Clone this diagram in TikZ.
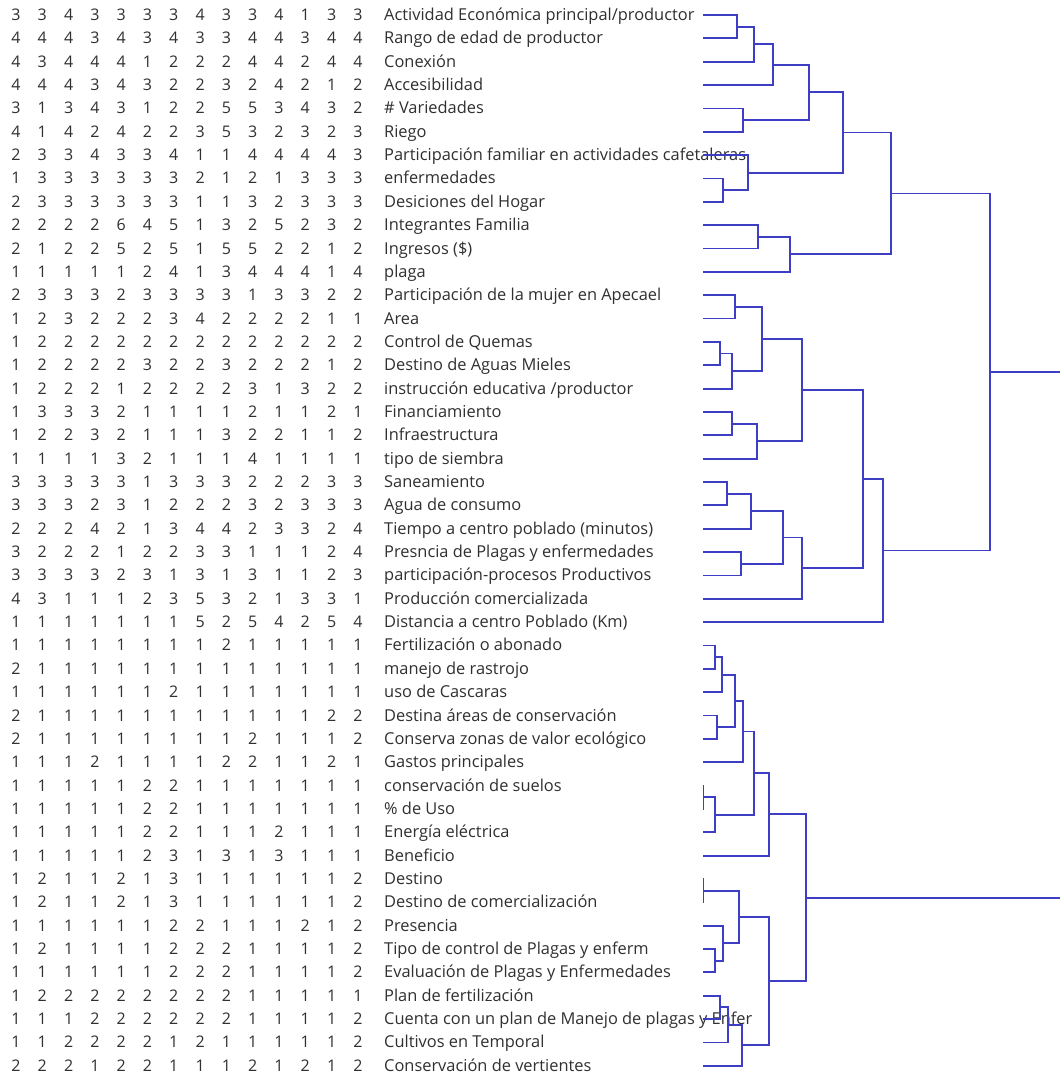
\documentclass[tikz,border=0pt]{standalone}
\usepackage{fontspec}
\setmainfont{Open Sans}
\usetikzlibrary{calc}

\definecolor{treeblue}{RGB}{62,62,196}
\definecolor{ink}{RGB}{48,48,48}

% vertical position of a row
\newcommand{\rowy}[1]{15+(#1-1)*23.35}

% one row of the table: scores, variable name, leaf of the tree
\newcommand{\datarow}[3]{%
  \foreach \v [count=\j] in {#2}
    \node[score] at ({16+(\j-1)*26.3},{\rowy{#1}+5.5}) {\v};
  \node[varname] (v#1) at (384,{\rowy{#1}+5.5}) {#3};
  \coordinate (r#1) at (703,{\rowy{#1}});
}

% join two branches at height #4
\newcommand{\merge}[4]{%
  \path let \p1=(#2), \p2=(#3) in coordinate (#1) at (#4pt,{0.5*\y1+0.5*\y2});
  \draw[tree] (#2) -| (#1) |- (#3);
}

\begin{document}
\begin{tikzpicture}[
        x=1pt, y=-1pt,
        score/.style={anchor=base, inner sep=0pt, text=ink, font=\fontsize{16}{18}\selectfont},
        varname/.style={anchor=base west, inner sep=0pt, text=ink, font=\fontsize{16.4}{18}\selectfont},
        tree/.style={draw=treeblue, line width=1.8pt}
    ]
    \useasboundingbox[fill=white] (0,0) rectangle (1060,1081);
    \coordinate (rim) at (1060,0);

    % table
    \datarow{1}{3,3,4,3,3,3,3,4,3,3,4,1,3,3}{Actividad Económica principal/productor}
    \datarow{2}{4,4,4,3,4,3,4,3,3,4,4,3,4,4}{Rango de edad de productor}
    \datarow{3}{4,3,4,4,4,1,2,2,2,4,4,2,4,4}{Conexión}
    \datarow{4}{4,4,4,3,4,3,2,2,3,2,4,2,1,2}{Accesibilidad}
    \datarow{5}{3,1,3,4,3,1,2,2,5,5,3,4,3,2}{\# Variedades}
    \datarow{6}{4,1,4,2,4,2,2,3,5,3,2,3,2,3}{Riego}
    \datarow{7}{2,3,3,4,3,3,4,1,1,4,4,4,4,3}{Participación familiar en actividades cafetaleras}
    \datarow{8}{1,3,3,3,3,3,3,2,1,2,1,3,3,3}{enfermedades}
    \datarow{9}{2,3,3,3,3,3,3,1,1,3,2,3,3,3}{Desiciones del Hogar}
    \datarow{10}{2,2,2,2,6,4,5,1,3,2,5,2,3,2}{Integrantes Familia}
    \datarow{11}{2,1,2,2,5,2,5,1,5,5,2,2,1,2}{Ingresos (\$)}
    \datarow{12}{1,1,1,1,1,2,4,1,3,4,4,4,1,4}{plaga}
    \datarow{13}{2,3,3,3,2,3,3,3,3,1,3,3,2,2}{Participación de la mujer en Apecael}
    \datarow{14}{1,2,3,2,2,2,3,4,2,2,2,2,1,1}{Area}
    \datarow{15}{1,2,2,2,2,2,2,2,2,2,2,2,2,2}{Control de Quemas}
    \datarow{16}{1,2,2,2,2,3,2,2,3,2,2,2,1,2}{Destino de Aguas Mieles}
    \datarow{17}{1,2,2,2,1,2,2,2,2,3,1,3,2,2}{instrucción educativa /productor}
    \datarow{18}{1,3,3,3,2,1,1,1,1,2,1,1,2,1}{Financiamiento}
    \datarow{19}{1,2,2,3,2,1,1,1,3,2,2,1,1,2}{Infraestructura}
    \datarow{20}{1,1,1,1,3,2,1,1,1,4,1,1,1,1}{tipo de siembra}
    \datarow{21}{3,3,3,3,3,1,3,3,3,2,2,2,3,3}{Saneamiento}
    \datarow{22}{3,3,3,2,3,1,2,2,2,3,2,3,3,3}{Agua de consumo}
    \datarow{23}{2,2,2,4,2,1,3,4,4,2,3,3,2,4}{Tiempo a centro poblado (minutos)}
    \datarow{24}{3,2,2,2,1,2,2,3,3,1,1,1,2,4}{Presncia de Plagas y enfermedades}
    \datarow{25}{3,3,3,3,2,3,1,3,1,3,1,1,2,3}{participación-procesos Productivos}
    \datarow{26}{4,3,1,1,1,2,3,5,3,2,1,3,3,1}{Producción comercializada}
    \datarow{27}{1,1,1,1,1,1,1,5,2,5,4,2,5,4}{Distancia a centro Poblado (Km)}
    \datarow{28}{1,1,1,1,1,1,1,1,2,1,1,1,1,1}{Fertilización o abonado}
    \datarow{29}{2,1,1,1,1,1,1,1,1,1,1,1,1,1}{manejo de rastrojo}
    \datarow{30}{1,1,1,1,1,1,2,1,1,1,1,1,1,1}{uso de Cascaras}
    \datarow{31}{2,1,1,1,1,1,1,1,1,1,1,1,2,2}{Destina áreas de conservación}
    \datarow{32}{2,1,1,1,1,1,1,1,1,2,1,1,1,2}{Conserva zonas de valor ecológico}
    \datarow{33}{1,1,1,2,1,1,1,1,2,2,1,1,2,1}{Gastos principales}
    \datarow{34}{1,1,1,1,1,2,2,1,1,1,1,1,1,1}{conservación de suelos}
    \datarow{35}{1,1,1,1,1,2,2,1,1,1,1,1,1,1}{\% de Uso}
    \datarow{36}{1,1,1,1,1,2,2,1,1,1,2,1,1,1}{Energía eléctrica}
    \datarow{37}{1,1,1,1,1,2,3,1,3,1,3,1,1,1}{Beneficio}
    \datarow{38}{1,2,1,1,2,1,3,1,1,1,1,1,1,2}{Destino}
    \datarow{39}{1,2,1,1,2,1,3,1,1,1,1,1,1,2}{Destino de comercialización}
    \datarow{40}{1,1,1,1,1,1,2,2,1,1,1,2,1,2}{Presencia}
    \datarow{41}{1,2,1,1,1,1,2,2,2,1,1,1,1,2}{Tipo de control de Plagas y enferm}
    \datarow{42}{1,1,1,1,1,1,2,2,2,1,1,1,1,2}{Evaluación de Plagas y Enfermedades}
    \datarow{43}{1,2,2,2,2,2,2,2,2,1,1,1,1,1}{Plan de fertilización}
    \datarow{44}{1,1,1,2,2,2,2,2,2,1,1,1,1,2}{Cuenta con un plan de Manejo de plagas y Enfer}
    \datarow{45}{1,1,2,2,2,2,1,2,1,1,1,1,1,2}{Cultivos en Temporal}
    \datarow{46}{2,2,2,1,2,2,1,1,1,2,1,2,1,2}{Conservación de vertientes}

    % upper group
    \merge{a1}{r1}{r2}{737}
    \merge{a2}{a1}{r3}{754}
    \merge{a3}{a2}{r4}{773}
    \merge{a4}{r5}{r6}{743}
    \merge{a5}{a3}{a4}{809}
    \merge{a6}{r8}{r9}{723}
    \merge{a7}{r7}{a6}{748}
    \merge{a8}{a5}{a7}{843}
    \merge{a9}{r10}{r11}{758}
    \merge{a10}{a9}{r12}{790}
    \merge{a11}{a8}{a10}{891}

    \merge{b1}{r13}{r14}{735}
    \merge{b2}{r15}{r16}{720}
    \merge{b3}{b2}{r17}{732}
    \merge{b4}{b1}{b3}{762}
    \merge{b5}{r18}{r19}{732}
    \merge{b6}{b5}{r20}{757}
    \merge{b7}{b4}{b6}{802}
    \merge{b8}{r21}{r22}{727}
    \merge{b9}{b8}{r23}{751}
    \merge{b10}{r24}{r25}{741}
    \merge{b11}{b9}{b10}{783}
    \merge{b12}{b11}{r26}{802}
    \merge{b13}{b7}{b12}{863}
    \merge{b14}{b13}{r27}{883}

    \merge{top}{a11}{b14}{990}
    \draw[tree] (top) -- (top -| rim);

    % lower group
    \merge{c1}{r28}{r29}{715}
    \merge{c2}{c1}{r30}{722}
    \merge{c3}{r31}{r32}{717}
    \merge{c4}{c2}{c3}{735}
    \merge{c5}{c4}{r33}{743}
    \merge{c6}{r34}{r35}{703.5}
    \merge{c7}{c6}{r36}{715}
    \merge{c8}{c5}{c7}{754}
    \merge{c9}{c8}{r37}{769}
    \merge{c10}{r38}{r39}{703.5}
    \merge{c11}{r41}{r42}{715}
    \merge{c12}{r40}{c11}{723}
    \merge{c13}{c10}{c12}{739}
    \merge{c14}{r43}{r44}{720}
    \merge{c15}{c14}{r45}{728}
    \merge{c16}{c15}{r46}{742}
    \merge{c17}{c13}{c16}{769}
    \merge{c18}{c9}{c17}{806}
    \draw[tree] (c18) -- (c18 -| rim);
\end{tikzpicture}
\end{document}
